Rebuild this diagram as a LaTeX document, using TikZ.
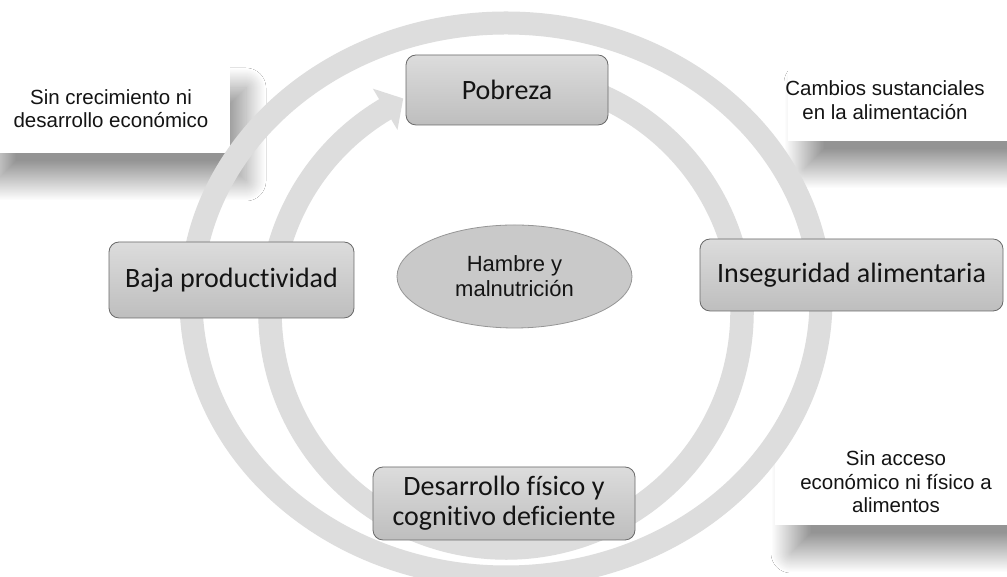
\documentclass[tikz,border=0pt]{standalone}
\usepackage{fontspec}
\setmainfont{Liberation Sans}
\newfontfamily\boxfont[Ligatures={NoCommon}]{Carlito}
\usetikzlibrary{shapes.geometric,shadows.blur}
\definecolor{ringgray}{RGB}{221,221,221}
\definecolor{boxtop}{RGB}{220,220,220}
\definecolor{boxbot}{RGB}{190,190,190}
\definecolor{boxline}{RGB}{105,105,105}
\definecolor{ellfill}{RGB}{201,201,201}
\definecolor{ellline}{RGB}{150,150,150}
\definecolor{txt}{RGB}{20,20,20}
\tikzset{
  stepbox/.style={draw=boxline, line width=0.8pt, rounded corners=10pt,
    top color=boxtop, bottom color=boxbot, inner sep=0pt, align=center,
    text=txt, font=\boxfont\fontsize{28}{30}\selectfont},
  calloutbox/.style={fill=white, draw=none, inner sep=0pt,
    blur shadow={shadow xshift=16pt, shadow yshift=-28pt,
      shadow blur radius=20pt, shadow blur steps=60, shadow opacity=42}},
  callouttext/.style={inner sep=0pt, align=center, text=txt,
    font=\fontsize{20.5}{23.5}\selectfont},
}
\begin{document}
\begin{tikzpicture}[x=1pt,y=1pt]
\useasboundingbox (0,0) rectangle (1007,577);
\fill[white] (0,0) rectangle (1007,577);

% callout boxes with shadows
\node[calloutbox, minimum width=250pt, minimum height=93pt] (cbTL) at (105,470.5) {};
\node[calloutbox, minimum width=242pt, minimum height=86pt] (cbTR) at (909,479) {};
\node[calloutbox, minimum width=255pt, minimum height=97pt] (cbBR) at (902.5,100.5) {};

% outer ring
\draw[draw=ringgray, line width=23pt] (506,277) ellipse [x radius=315pt, y radius=277pt];

% inner circular arrow
\begin{scope}[shift={(506,265)}]
\fill[ringgray] (85:247.75pt) arc[start angle=85, end angle=-239.2, radius=247.75pt]
  -- (-239.2:260pt) -- (-102.8pt,213.5pt) -- (-239.2:212pt) -- (-239.2:224.25pt)
  arc[start angle=-239.2, end angle=85, radius=224.25pt] -- cycle;
\end{scope}

% callout texts
\node[callouttext] (tTL) at (111,468.5) {Sin crecimiento ni\\desarrollo económico};
\node[callouttext] (tTR) at (885,477) {Cambios sustanciales\\en la alimentación};
\node[callouttext] (tBR) at (896,95) {Sin acceso\\económico ni físico a\\alimentos};

% main boxes
\node[stepbox, minimum width=202pt, minimum height=70pt] (pob) at (507,487) {Pobreza};
\node[stepbox, minimum width=245pt, minimum height=76pt] (baja) at (231.5,297) {Baja productividad};
\node[stepbox, minimum width=303pt, minimum height=72pt] (inseg) at (851.5,302) {Inseguridad alimentaria};
\node[stepbox, minimum width=262pt, minimum height=73pt] (desa) at (504,73.5) {Desarrollo físico y\\cognitivo deficiente};

% centre ellipse
\node[ellipse, draw=ellline, line width=0.8pt, fill=ellfill, minimum width=235pt,
  minimum height=103pt, inner sep=0pt, align=center, text=txt,
  font=\fontsize{22}{25}\selectfont] (hm) at (514.5,300.5) {Hambre y\\malnutrición};
\end{tikzpicture}
\end{document}
